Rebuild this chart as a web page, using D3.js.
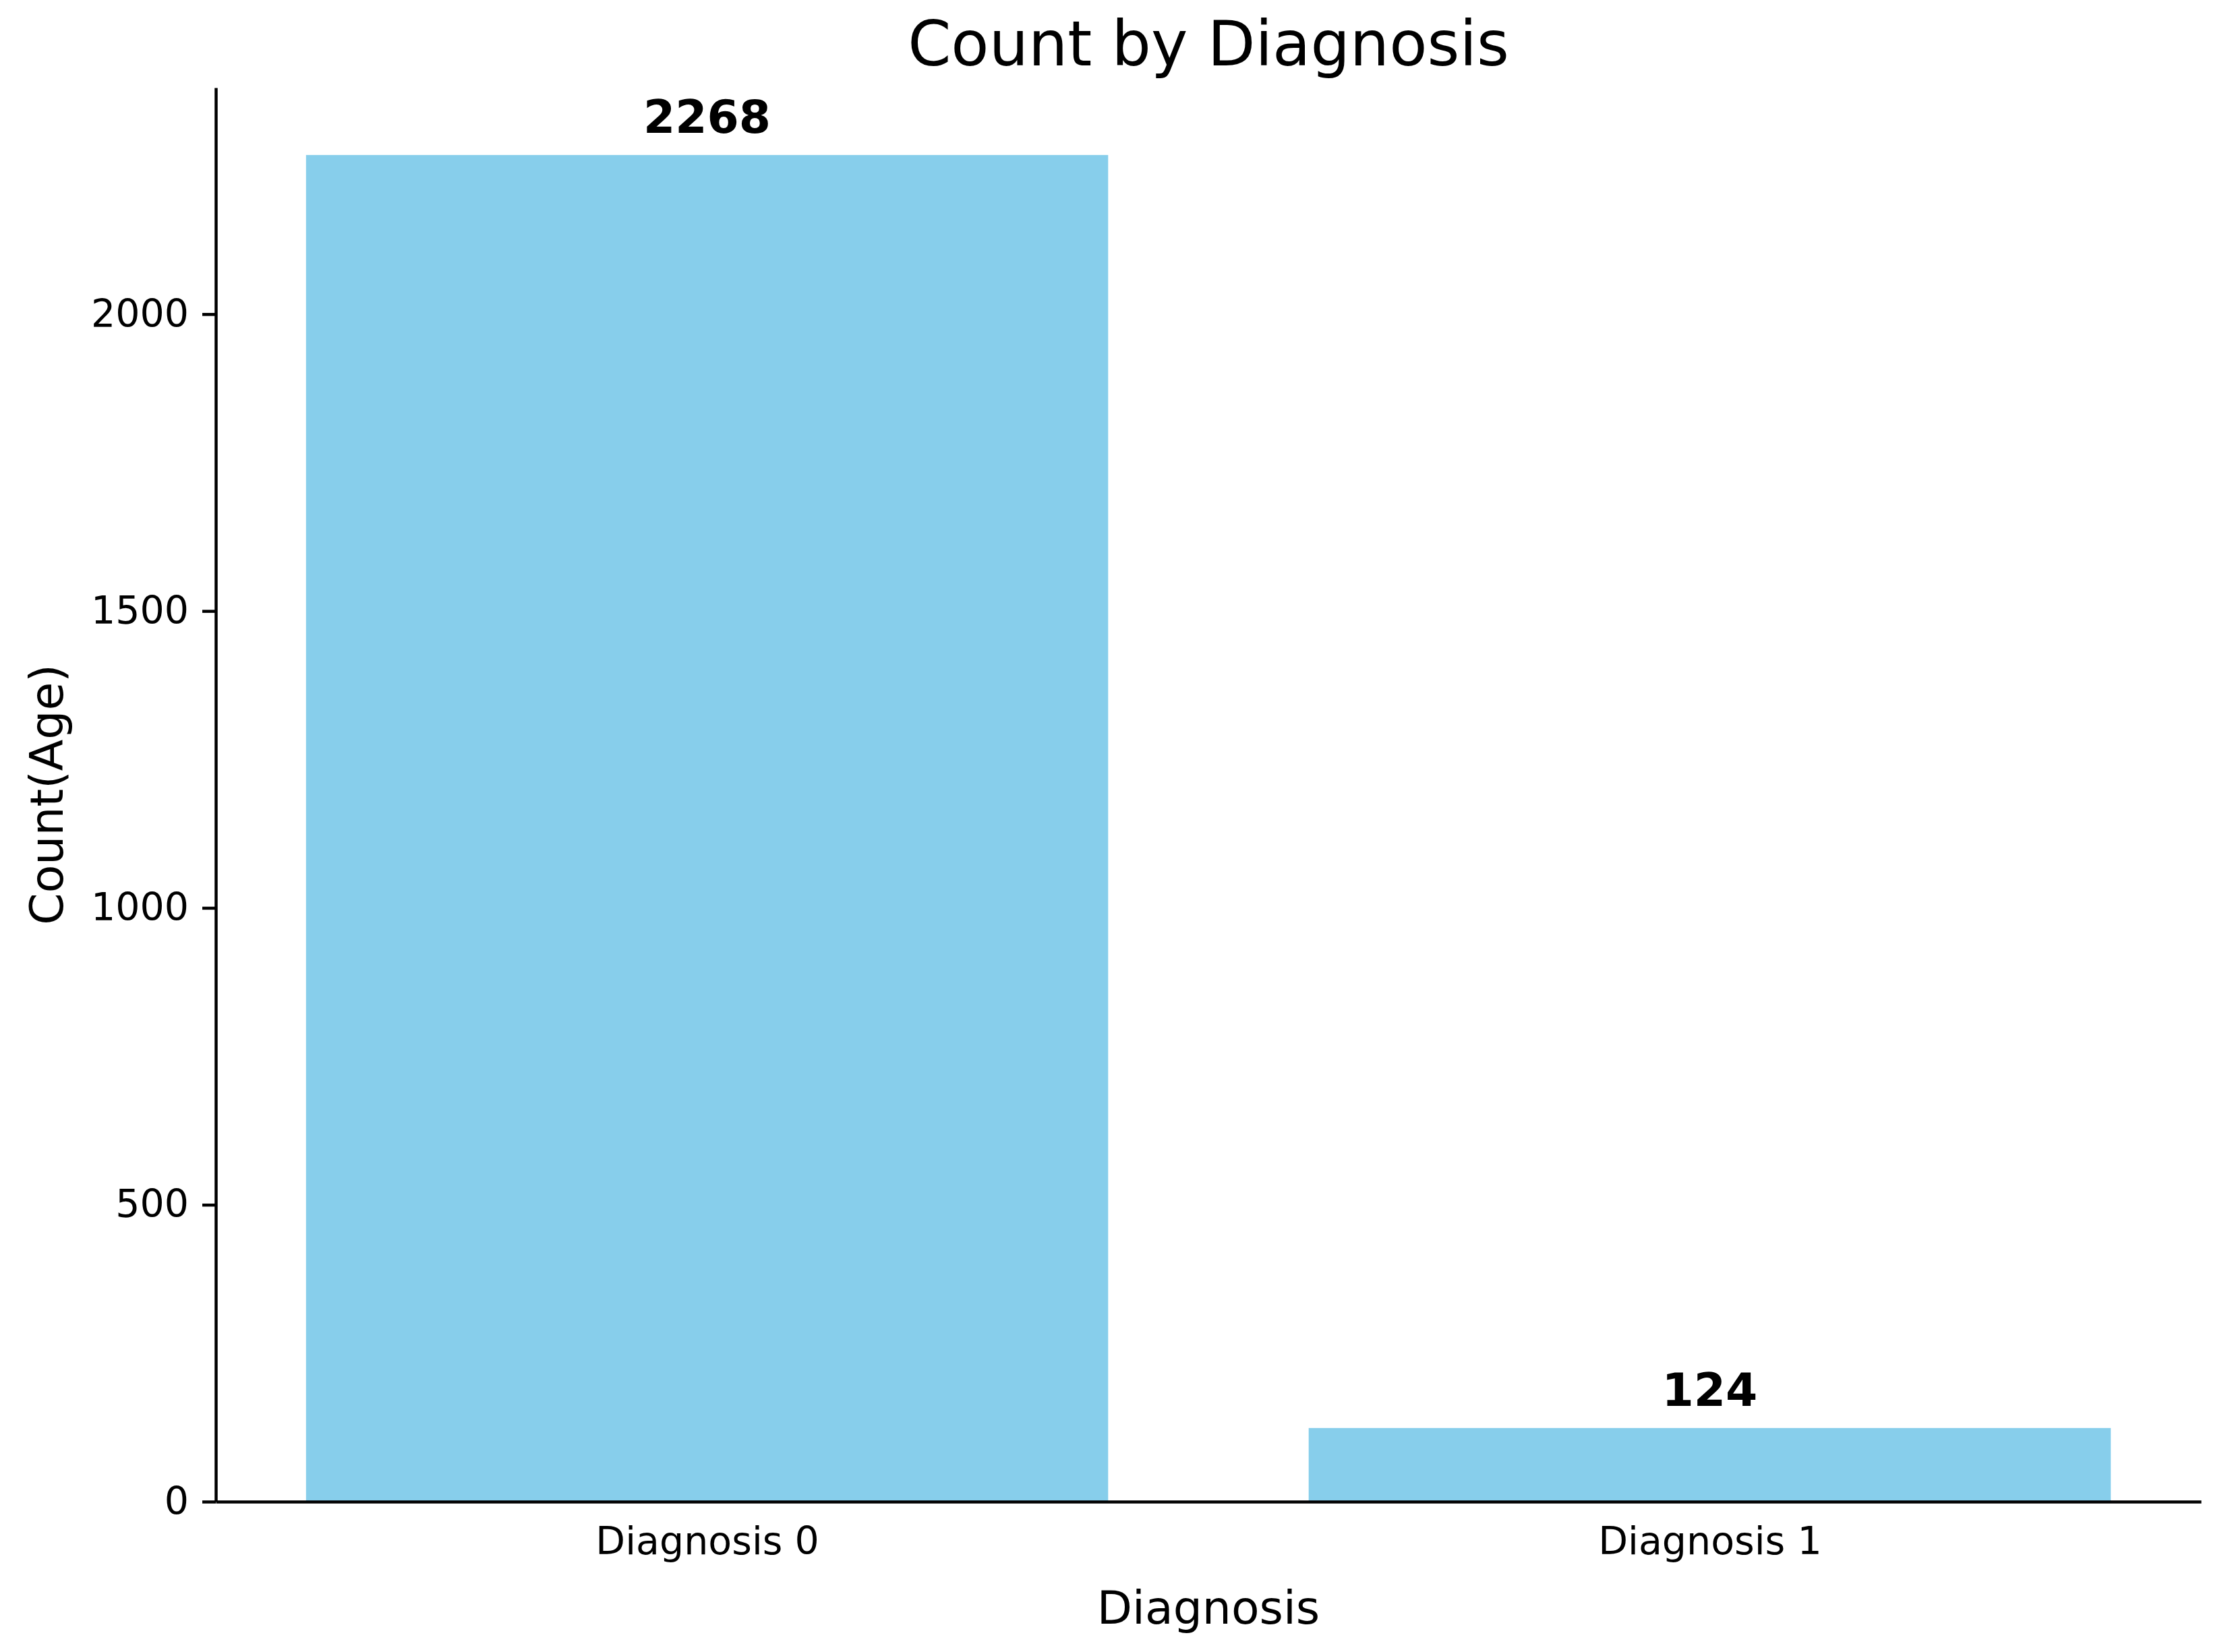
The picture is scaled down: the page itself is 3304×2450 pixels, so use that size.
<!DOCTYPE html>
<html>
<head>
<meta charset="utf-8">
<script src="https://cdn.jsdelivr.net/npm/d3@7"></script>
<style>
  html, body { margin: 0; padding: 0; background: #fff; }
  svg { display: block; }
</style>
</head>
<body>
<script>
const categories = ["Diagnosis 0", "Diagnosis 1"];
const counts = [2268, 124];
const yTicks = [0, 500, 1000, 1500, 2000];
const title = "Count by Diagnosis";
const xLabel = "Diagnosis";
const yLabel = "Count(Age)";

(function () {
const W = 3304, H = 2450;
const mLeft = 320, mRight = 3264, mTop = 130, mBottom = 2227;
const font = "'DejaVu Sans', sans-serif";

const svg = d3.select("body").append("svg")
  .attr("width", W).attr("height", H)
  .style("background", "#fff");

const x = d3.scaleLinear().domain([-0.49, categories.length - 1 + 0.49]).range([mLeft, mRight]);
const y = d3.scaleLinear().domain([0, d3.max(counts) * 1.05]).range([mBottom, mTop]);
const barW = x(0.8) - x(0);

// bars
svg.append("g").selectAll("rect").data(counts).join("rect")
  .attr("x", (d, i) => x(i) - barW / 2)
  .attr("y", d => y(d))
  .attr("width", barW)
  .attr("height", d => y(0) - y(d))
  .attr("fill", "#87CEEB");

// value labels
svg.append("g").selectAll("text").data(counts).join("text")
  .attr("x", (d, i) => x(i))
  .attr("y", d => y(d) - 33)
  .attr("text-anchor", "middle")
  .attr("font-family", font)
  .attr("font-weight", "bold")
  .attr("font-size", 68)
  .attr("fill", "#000")
  .text(d => d);

// y axis
const yAxis = svg.append("g")
  .attr("transform", `translate(${mLeft},0)`)
  .call(d3.axisLeft(y).tickValues(yTicks).tickFormat(d3.format("d"))
    .tickSize(20).tickPadding(20).tickSizeOuter(0));
yAxis.select(".domain").attr("stroke", "#000").attr("stroke-width", 4.5);
yAxis.selectAll(".tick line").attr("stroke", "#000").attr("stroke-width", 4.5);
yAxis.selectAll(".tick text").attr("font-family", font).attr("font-size", 57).attr("fill", "#000");

// x axis (no tick marks)
const xAxis = svg.append("g")
  .attr("transform", `translate(0,${mBottom})`)
  .call(d3.axisBottom(x).tickValues(d3.range(categories.length))
    .tickFormat(i => categories[i]).tickSize(0).tickPadding(38).tickSizeOuter(0));
xAxis.select(".domain").attr("stroke", "#000").attr("stroke-width", 4.5);
xAxis.selectAll(".tick line").remove();
xAxis.selectAll(".tick text").attr("font-family", font).attr("font-size", 57).attr("fill", "#000");

// title
svg.append("text")
  .attr("x", (mLeft + mRight) / 2).attr("y", 97)
  .attr("text-anchor", "middle")
  .attr("font-family", font).attr("font-size", 92).attr("fill", "#000")
  .text(title);

// x label
svg.append("text")
  .attr("x", (mLeft + mRight) / 2).attr("y", 2408)
  .attr("text-anchor", "middle")
  .attr("font-family", font).attr("font-size", 68).attr("fill", "#000")
  .text(xLabel);

// y label
svg.append("text")
  .attr("transform", `translate(93,${(mTop + mBottom) / 2}) rotate(-90)`)
  .attr("text-anchor", "middle")
  .attr("font-family", font).attr("font-size", 68).attr("fill", "#000")
  .text(yLabel);
})();
</script>
</body>
</html>
